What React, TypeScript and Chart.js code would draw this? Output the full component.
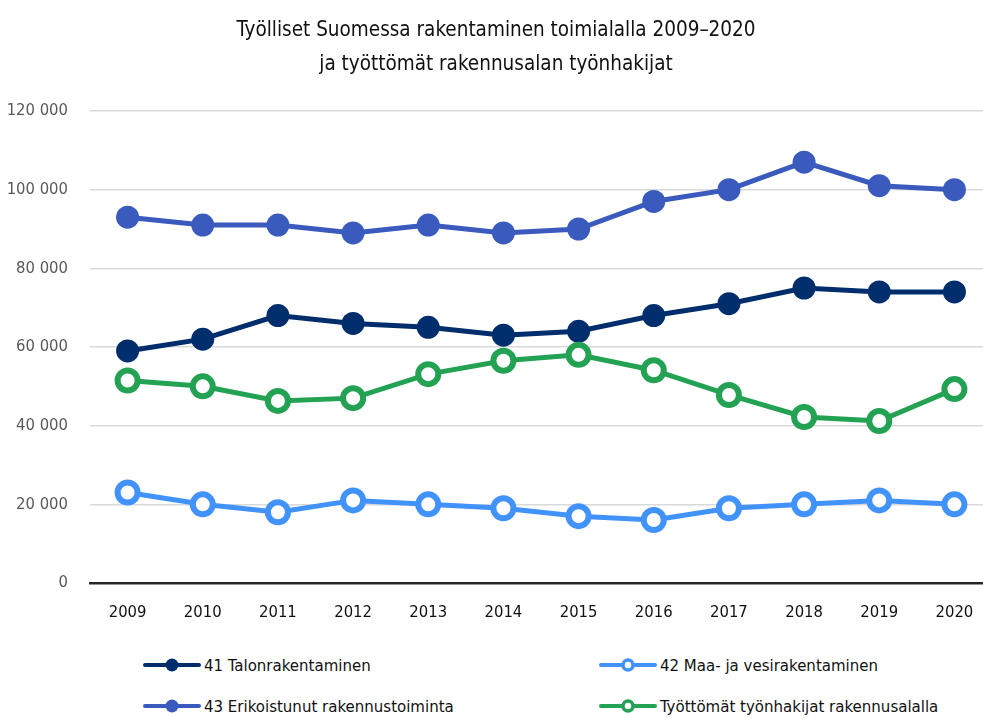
import React, { useEffect, useRef } from "react";
import { Chart, registerables } from "chart.js";

Chart.register(...registerables);

const FONT = "'Liberation Sans Narrow', 'DejaVu Sans Condensed', 'Arial Narrow', sans-serif";

const titleLines = [
  "Työlliset Suomessa rakentaminen toimialalla 2009–2020",
  "ja työttömät rakennusalan työnhakijat",
];

const years = ["2009", "2010", "2011", "2012", "2013", "2014", "2015", "2016", "2017", "2018", "2019", "2020"];

const talonLabel = "41 Talonrakentaminen";
const talon = [59000, 62000, 68000, 66000, 65000, 63000, 64000, 68000, 71000, 75000, 74000, 74000];

const maaLabel = "42 Maa- ja vesirakentaminen";
const maa = [23000, 20000, 18000, 21000, 20000, 19000, 17000, 16000, 19000, 20000, 21000, 20000];

const erikoisLabel = "43 Erikoistunut rakennustoiminta";
const erikois = [93000, 91000, 91000, 89000, 91000, 89000, 90000, 97000, 100000, 107000, 101000, 100000];

const tyotLabel = "Työttömät työnhakijat rakennusalalla";
const tyot = [51500, 50000, 46300, 47000, 53100, 56500, 58000, 54100, 47800, 42200, 41200, 49300];

const yMin = 0;
const yMax = 120000;
const yStep = 20000;

const NAVY = "#002e6d";
const BLUE = "#3a5bbd";
const LIGHT = "#4193fb";
const GREEN = "#23a253";

const fmt = (v: number) => String(v).replace(/\B(?=(\d{3})+(?!\d))/g, " ");

function LegendMark({ color, hollow }: { color: string; hollow: boolean }) {
  return (
    <svg width={58} height={16} style={{ display: "block", flex: "none" }}>
      <line x1={2} y1={8} x2={56} y2={8} stroke={color} strokeWidth={4} strokeLinecap="round" />
      {hollow ? (
        <circle cx={29} cy={8} r={5} fill="#ffffff" stroke={color} strokeWidth={3.5} />
      ) : (
        <circle cx={29} cy={8} r={6.5} fill={color} />
      )}
    </svg>
  );
}

function LegendItem({ left, top, color, hollow, text }: { left: number; top: number; color: string; hollow: boolean; text: string }) {
  return (
    <div
      style={{
        position: "absolute",
        left,
        top,
        height: 40,
        display: "flex",
        alignItems: "center",
        fontFamily: FONT,
        fontSize: 16.7,
        color: "#111111",
        whiteSpace: "nowrap",
      }}
    >
      <LegendMark color={color} hollow={hollow} />
      <span style={{ marginLeft: 3 }}>{text}</span>
    </div>
  );
}

export default function App() {
  const canvasRef = useRef<HTMLCanvasElement | null>(null);

  useEffect(() => {
    const canvas = canvasRef.current;
    if (!canvas) return;
    const filled = (label: string, data: number[], color: string) => ({
      label,
      data,
      borderColor: color,
      backgroundColor: color,
      borderWidth: 5,
      pointRadius: 11.5,
      pointHoverRadius: 11.5,
      pointBorderWidth: 0,
      pointBackgroundColor: color,
      tension: 0,
    });
    const hollow = (label: string, data: number[], color: string) => ({
      label,
      data,
      borderColor: color,
      backgroundColor: "#ffffff",
      borderWidth: 5,
      pointRadius: 10,
      pointHoverRadius: 10,
      pointBorderWidth: 6,
      pointBorderColor: color,
      pointBackgroundColor: "#ffffff",
      tension: 0,
    });
    const chart = new Chart(canvas, {
      type: "line",
      data: {
        labels: years,
        datasets: [
          hollow(maaLabel, maa, LIGHT),
          hollow(tyotLabel, tyot, GREEN),
          filled(talonLabel, talon, NAVY),
          filled(erikoisLabel, erikois, BLUE),
        ],
      },
      options: {
        responsive: false,
        animation: false,
        layout: { autoPadding: false, padding: { left: 0, right: 8, top: 0, bottom: 16 } },
        plugins: {
          legend: { display: false },
          tooltip: { enabled: false },
          title: {
            display: true,
            text: titleLines,
            color: "#111111",
            font: { family: FONT, size: 20.5, weight: "normal", lineHeight: 34 / 20.5 },
            padding: { top: 14, bottom: 29 },
          },
        },
        scales: {
          x: {
            offset: true,
            grid: { display: false, drawTicks: false },
            border: { display: true, color: "#262626", width: 2.5 },
            ticks: {
              color: "#111111",
              padding: 20,
              font: { family: FONT, size: 16.5 },
              maxRotation: 0,
              autoSkip: false,
            },
            afterFit: (scale: any) => {
              scale.height = 41;
            },
          },
          y: {
            min: yMin,
            max: yMax,
            grid: { color: "#d9d9d9", lineWidth: 1.5, drawTicks: false },
            border: { display: false },
            ticks: {
              stepSize: yStep,
              color: "#595959",
              padding: 22,
              font: { family: FONT, size: 16.5 },
              callback: (v: any) => fmt(Number(v)),
            },
            afterFit: (scale: any) => {
              scale.width = 90;
            },
          },
        },
      },
    });
    return () => chart.destroy();
  }, []);

  return (
    <div
      style={{
        position: "absolute",
        left: 0,
        top: 0,
        width: 983,
        height: 718,
        overflow: "hidden",
        background: "#ffffff",
      }}
    >
      <canvas
        ref={canvasRef}
        width={1000}
        height={640}
        style={{ position: "absolute", left: 0, top: 0, width: 1000, height: 640 }}
      />
      <LegendItem left={143} top={645} color={NAVY} hollow={false} text={talonLabel} />
      <LegendItem left={599} top={645} color={LIGHT} hollow={true} text={maaLabel} />
      <LegendItem left={143} top={686} color={BLUE} hollow={false} text={erikoisLabel} />
      <LegendItem left={599} top={686} color={GREEN} hollow={true} text={tyotLabel} />
    </div>
  );
}
